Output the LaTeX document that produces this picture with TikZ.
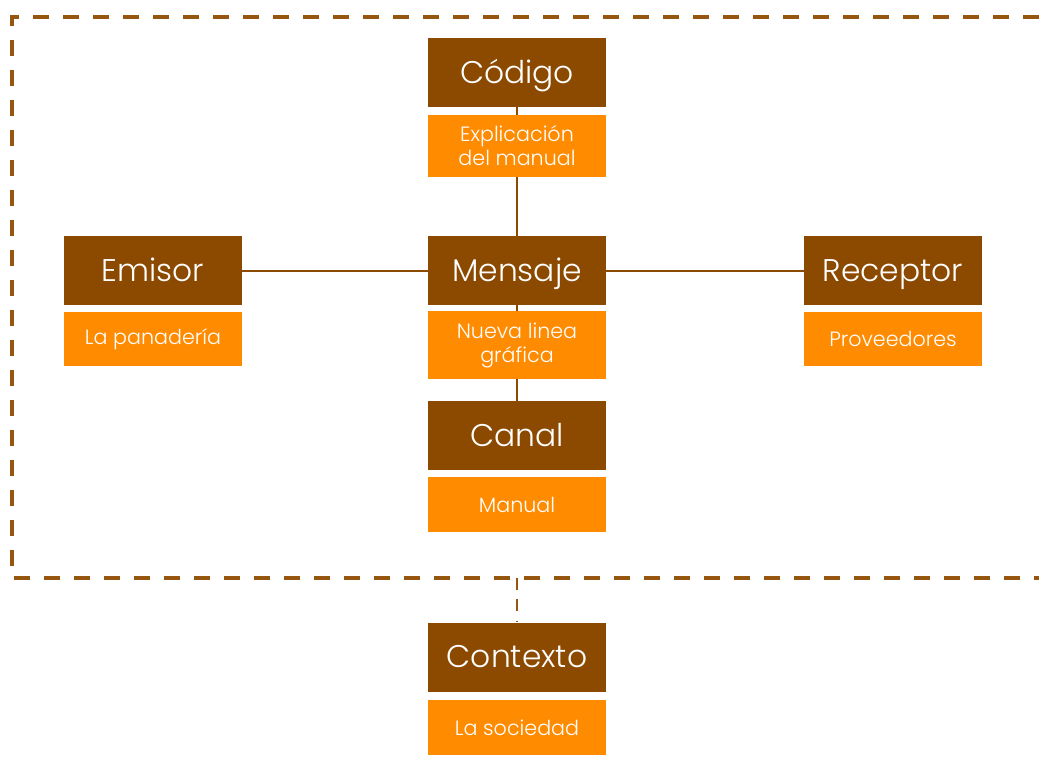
\documentclass[tikz,border=0pt]{standalone}
\usepackage{fontspec}
\setmainfont{Poppins Light}
\usepackage{tikz}
\definecolor{cafe}{RGB}{140,74,0}
\definecolor{naranja}{RGB}{255,139,0}
\definecolor{marco}{RGB}{150,86,16}

\begin{document}
\begin{tikzpicture}[x=0.75pt,y=-0.75pt,
    titulo/.style={fill=cafe,text=white,minimum width=133.5pt,minimum height=51.75pt,inner sep=0pt,text height=16pt,text depth=0pt,font=\fontsize{23.5}{26}\selectfont},
    detalle/.style={fill=naranja,text=white,minimum width=133.5pt,inner sep=0pt,align=center,font=\fontsize{15.5}{18}\selectfont},
    enlace/.style={draw=cafe,line width=1.5pt},
    marcolinea/.style={draw=marco,line width=2.4pt,dash pattern=on 12pt off 10.5pt}]%
    \useasboundingbox (0,0) rectangle (1039,757);
    % marco punteado
    \draw[marcolinea] (1039,17) -- (12,17) -- (12,578) -- (1039,578);
    \coordinate (mb) at (517,578);
    % titulos
    \node[titulo] (cod) at (517,72.5) {Código};
    \node[titulo] (men) at (517,270.5) {Mensaje};
    \node[titulo] (can) at (517,435.5) {Canal};
    \node[titulo] (emi) at (153,270.5) {Emisor};
    \node[titulo] (rec) at (893,270.5) {Receptor};
    \node[titulo] (ctx) at (517,657) {Contexto};
    % cajas de texto
    \node[detalle,minimum height=46.5pt] (expl) at (517,146) {Explicación\\del manual};
    \node[detalle,minimum height=51pt] (nueva) at (517,345) {Nueva linea\\gráfica};
    \node[detalle,minimum height=41.25pt] (manual) at (517,504.5) {Manual};
    \node[detalle,minimum height=40.5pt] (pan) at (153,339) {La panadería};
    \node[detalle,minimum height=40.5pt] (prov) at (893,339) {Proveedores};
    \node[detalle,minimum height=41.25pt] (soc) at (517,727.5) {La sociedad};
    % conexiones
    \draw[enlace] (cod) -- (expl);
    \draw[enlace] (expl) -- (men);
    \draw[enlace] (men) -- (nueva);
    \draw[enlace] (nueva) -- (can);
    \draw[enlace] (emi) -- (men);
    \draw[enlace] (men) -- (rec);
    \draw[marcolinea,line width=1.6pt,dash pattern=on 9pt off 7pt] (mb) -- (ctx);
\end{tikzpicture}
\end{document}
